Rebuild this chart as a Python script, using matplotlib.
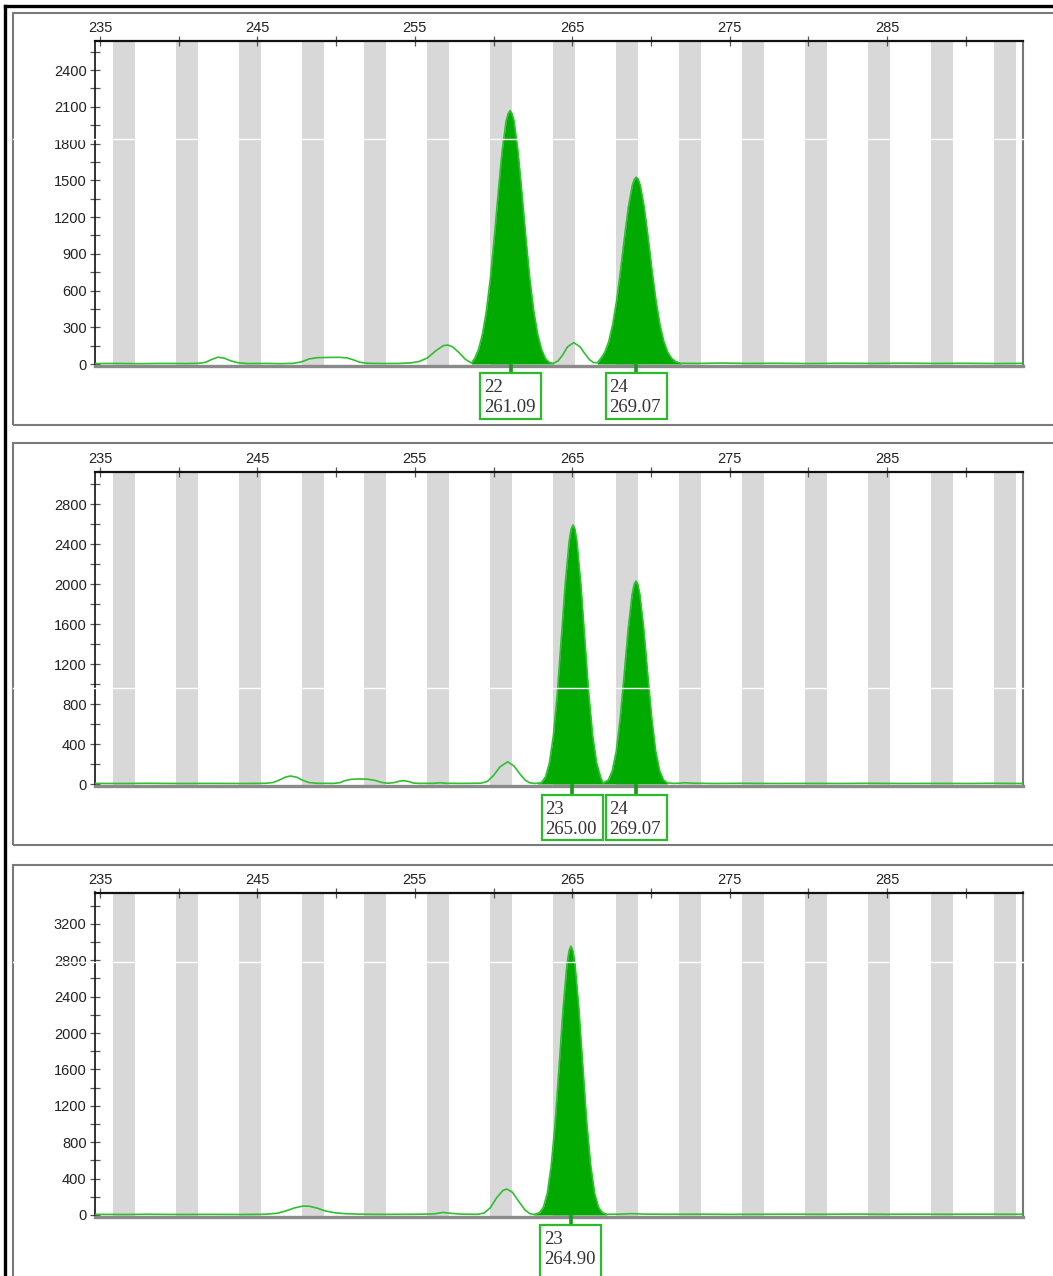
import matplotlib
matplotlib.use("Agg")
import matplotlib.pyplot as plt
import matplotlib.patches as patches
import matplotlib.transforms as mtrans
from matplotlib.lines import Line2D
import numpy as np

# ---- data ----
size_ticks = [235, 245, 255, 265, 275, 285]
bin_centres = [236.5, 240.5, 244.5, 248.5, 252.5, 256.5, 260.5, 264.5,
               268.5, 272.5, 276.5, 280.5, 284.5, 288.5, 292.5]

p1_x = [234.7, 236.0, 237.5, 239.0, 240.5, 241.3, 241.7, 242.1, 242.5, 242.9, 243.3, 243.8,
        244.4, 245.5, 246.5, 247.3, 247.8, 248.3, 248.8, 249.5, 250.2, 250.7, 251.1, 251.5,
        252.0, 253.0, 254.0, 254.8, 255.3, 255.8, 256.3, 256.8, 257.1, 257.4, 257.8, 258.2,
        258.6, 258.8, 259.05, 259.3, 259.55, 259.8, 260.05, 260.3, 260.55, 260.8, 260.93, 261.05,
        261.17, 261.3, 261.55, 261.8, 262.05, 262.3, 262.55, 262.8, 263.05, 263.3, 263.55, 263.8,
        264.1, 264.4, 264.7, 265.1, 265.5, 265.8, 266.1, 266.35, 266.6, 266.82, 267.07,
        267.32, 267.57, 267.82, 268.07, 268.32, 268.57, 268.82, 268.95, 269.07, 269.19, 269.32, 269.57,
        269.82, 270.07, 270.32, 270.57, 270.82, 271.07, 271.32, 271.57, 271.9, 273.0, 274.5,
        276.0, 278.0, 280.0, 282.0, 284.0, 286.0, 288.0, 290.0, 292.0, 293.7]
p1_y = [4, 5, 3, 5, 4, 6, 14, 38, 56, 48, 26, 10,
        4, 5, 3, 6, 18, 42, 52, 54, 55, 50, 34, 15,
        6, 4, 5, 10, 22, 50, 105, 150, 155, 140, 95, 40,
        8, 45, 120, 245, 435, 700, 1035, 1400, 1740, 1985, 2045, 2070,
        2045, 1985, 1740, 1400, 1035, 700, 435, 245, 120, 45, 12, 6,
        25, 75, 140, 175, 140, 85, 35, 12, 10, 46, 96,
        183, 322, 517, 762, 1034, 1283, 1461, 1508, 1525, 1508, 1461, 1283,
        1034, 762, 517, 322, 183, 96, 46, 20, 6, 5, 8,
        5, 6, 4, 6, 5, 7, 5, 6, 4, 6]

p2_x = [234.7, 236.5, 238.0, 240.0, 242.0, 244.0, 245.5, 246.0, 246.4, 246.8, 247.1, 247.5,
        247.9, 248.3, 248.8, 249.8, 250.2, 250.6, 251.0, 251.5, 252.0, 252.5, 252.9, 253.3,
        253.7, 254.0, 254.3, 254.6, 254.9, 255.3, 256.2, 256.6, 257.0, 258.0, 259.2, 259.6,
        260.0, 260.4, 260.9, 261.3, 261.7, 262.0, 262.3, 262.6, 262.8, 263.05, 263.3, 263.55,
        263.8, 264.05, 264.3, 264.55, 264.8, 264.93, 265.05, 265.17, 265.3, 265.55, 265.8, 266.05, 266.3,
        266.55, 266.8, 266.95, 267.3, 267.55, 267.8, 268.05, 268.3, 268.55, 268.8, 268.93, 269.05,
        269.17, 269.3, 269.55, 269.8, 270.05, 270.3, 270.55, 270.8, 271.05, 271.5, 272.2, 272.7,
        274.0, 276.0, 278.0, 280.0, 282.0, 284.0, 286.0, 288.0, 290.0, 292.0, 293.7]
p2_y = [6, 5, 7, 5, 6, 5, 7, 15, 40, 70, 80, 68,
        35, 14, 7, 6, 12, 35, 48, 50, 48, 35, 15, 8,
        14, 28, 33, 25, 10, 6, 7, 12, 7, 6, 8, 25,
        85, 170, 222, 180, 95, 40, 12, 6, 8, 15, 70, 210,
        480, 900, 1440, 1990, 2420, 2550, 2590, 2550, 2420, 1990, 1440, 900, 480,
        210, 70, 10, 40, 135, 330, 660, 1090, 1540, 1890, 1995, 2030,
        1995, 1890, 1540, 1090, 660, 330, 135, 40, 10, 6, 12, 8,
        5, 7, 5, 6, 5, 7, 5, 6, 5, 7, 5]

p3_x = [234.7, 236.5, 238.0, 240.0, 242.0, 244.0, 245.5, 246.3, 246.8, 247.4, 247.9, 248.3,
        248.8, 249.3, 249.9, 250.6, 251.5, 253.0, 255.0, 256.2, 256.8, 257.3, 258.0, 259.0,
        259.4, 259.8, 260.2, 260.6, 260.85, 261.2, 261.6, 262.0, 262.3, 262.55, 262.92,
        263.17, 263.42, 263.67, 263.92, 264.17, 264.42, 264.67, 264.8, 264.92, 265.04, 265.17, 265.42,
        265.67, 265.92, 266.17, 266.42, 266.67, 266.92, 267.2, 268.0, 268.8, 269.5, 271.0,
        273.0, 275.0, 277.0, 279.0, 281.0, 283.0, 285.0, 287.0, 289.0, 291.0, 293.7]
p3_y = [7, 6, 8, 6, 7, 6, 8, 20, 45, 80, 98, 96,
        75, 45, 25, 14, 9, 7, 8, 12, 28, 18, 9, 8,
        22, 80, 190, 270, 286, 250, 150, 55, 15, 6, 25,
        85, 240, 550, 1020, 1640, 2270, 2760, 2905, 2955, 2905, 2760, 2270,
        1640, 1020, 550, 240, 85, 25, 8, 9, 15, 10, 8,
        9, 7, 8, 9, 8, 10, 8, 9, 8, 9, 8]

# called peaks: (allele, size)
p1_calls = [("22", "261.09"), ("24", "269.07")]
p2_calls = [("23", "265.00"), ("24", "269.07")]
p3_calls = [("23", "264.90")]

# shaded (called) peak windows
p1_fill = [(258.6, 263.8), (266.6, 271.9)]
p2_fill = [(262.8, 266.95), (266.95, 271.1)]
p3_fill = [(262.55, 267.2)]

W, H = 1053, 1276
GREEN_FILL = "#00aa00"
GREEN_LINE = "#2fbf2f"
GRAY_BIN = "#d8d8d8"

plt.rcParams['font.family'] = ['Liberation Sans', 'DejaVu Sans']

fig = plt.figure(figsize=(W / 100, H / 100), dpi=100)

XMIN, XMAX = 234.68, 293.64


def make_panel(top_px, bot_px, ymin, ymax, major, yticks_max, xs, ys, fills, calls,
               box_gap, box_h):
    ax = fig.add_axes([95 / W, 1 - bot_px / H, 928 / W, (bot_px - top_px) / H])
    ax_h = bot_px - top_px
    ax.set_xlim(XMIN, XMAX)
    ax.set_ylim(ymin, ymax)

    for c in bin_centres:
        ax.axvspan(c - 0.7, c + 0.7, color=GRAY_BIN, lw=0, zorder=0)

    xs = np.array(xs, dtype=float)
    ys = np.array(ys, dtype=float)
    for lo, hi in fills:
        m = (xs >= lo) & (xs <= hi)
        ax.fill_between(xs[m], 0, ys[m], color=GREEN_FILL, lw=0, zorder=2)
    ax.plot(xs, ys, color=GREEN_LINE, lw=1.2, zorder=3)

    ax.xaxis.tick_top()
    ax.set_xticks(size_ticks)
    ax.set_xticks(np.arange(240, 295, 10), minor=True)
    ax.set_yticks(np.arange(0, yticks_max + 1, major))
    ax.set_yticks(np.arange(major / 2, ymax, major), minor=True)
    ax.tick_params(axis='both', which='both', direction='inout', color='#555555',
                   labelsize=10.5, labelcolor='#222222', pad=2.5, width=0.9)
    ax.tick_params(which='major', length=7)
    ax.tick_params(which='minor', length=7)
    ax.tick_params(axis='x', top=True, bottom=False, pad=0.5)

    ax.spines['top'].set_color('#111111')
    ax.spines['top'].set_linewidth(1.6)
    ax.spines['left'].set_color('#111111')
    ax.spines['left'].set_linewidth(1.2)
    ax.spines['bottom'].set_color('#8a8a8a')
    ax.spines['bottom'].set_linewidth(2.4)
    ax.spines['right'].set_color('#777777')
    ax.spines['right'].set_linewidth(1.5)

    # allele call boxes under the axis
    tr = mtrans.blended_transform_factory(ax.transData, ax.transAxes)
    for allele, size in calls:
        s = float(size)
        y_top = -box_gap / ax_h
        y_bot = -(box_gap + box_h) / ax_h
        ax.add_line(Line2D([s, s], [0, y_top], transform=tr, color="#1a9a1a", lw=2.6,
                           clip_on=False, zorder=5))
        ax.add_patch(patches.Rectangle((s - 1.95, y_bot), 3.9, y_top - y_bot, transform=tr,
                                       facecolor='white', edgecolor='#2dbb2d', lw=1.6,
                                       clip_on=False, zorder=5))
        ax.text(s - 1.7, -(box_gap + 15) / ax_h, allele, transform=tr, ha='left',
                va='center', fontsize=13.5, family='Liberation Serif', color='#333333',
                zorder=6)
        ax.text(s - 1.7, -(box_gap + 34) / ax_h, size, transform=tr, ha='left',
                va='center', fontsize=13.5, family='Liberation Serif', color='#333333',
                zorder=6)
    return ax


make_panel(41, 366, -16, 2637, 300, 2400, p1_x, p1_y, p1_fill, p1_calls, 7, 46)
make_panel(472, 786, -20, 3120, 400, 2800, p2_x, p2_y, p2_fill, p2_calls, 9, 45)
make_panel(892.5, 1217, -22, 3544, 400, 3200, p3_x, p3_y, p3_fill, p3_calls, 8, 60)


def fx(px):
    return px / W


def fy(py):
    return 1 - py / H


# outer black frame (left and top edges)
fig.add_artist(Line2D([fx(5), fx(5)], [fy(6), fy(H + 5)], color='black', lw=2.4))
fig.add_artist(Line2D([fx(5), fx(W + 5)], [fy(6), fy(6)], color='black', lw=2.4))

# gray panel frames
for top, bot in [(13, 425), (443, 845), (865, 1300)]:
    fig.add_artist(patches.Rectangle((fx(13), fy(bot)), fx(W + 20) - fx(13), fy(top) - fy(bot),
                                     transform=fig.transFigure, fill=False,
                                     edgecolor='#7a7a7a', lw=1.5))

# thin white scan lines crossing each panel
for py in [139, 688, 962]:
    fig.add_artist(Line2D([fx(13), 1], [fy(py), fy(py)], color='white', lw=1.0, zorder=20))

fig.savefig("out.png", dpi=100)
